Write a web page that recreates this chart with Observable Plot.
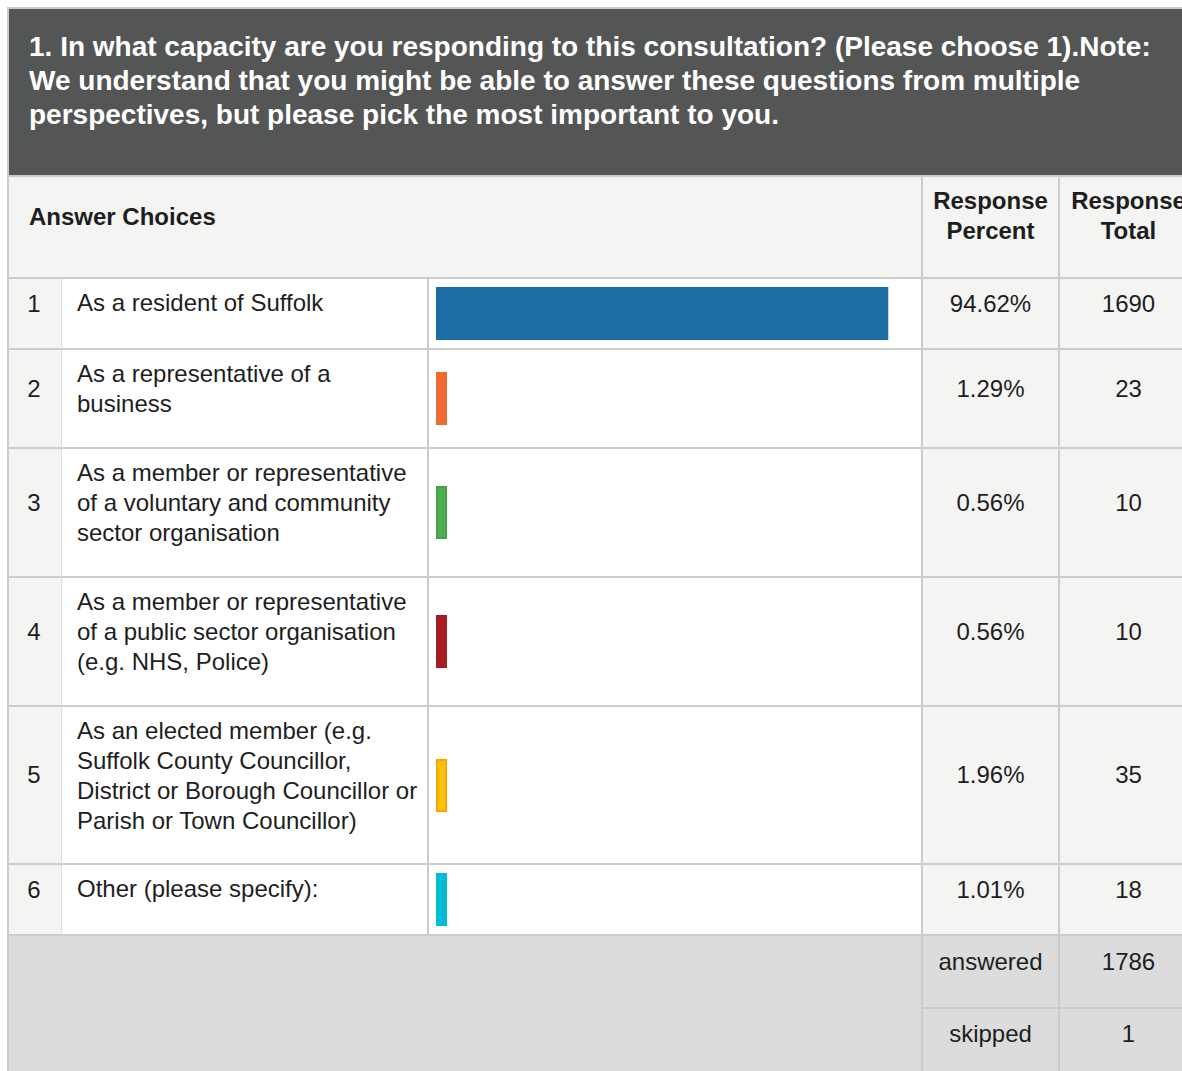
<!DOCTYPE html>
<html><head><meta charset="utf-8">
<script src="https://cdn.jsdelivr.net/npm/d3@7"></script>
<script src="https://cdn.jsdelivr.net/npm/@observablehq/plot@0.6"></script>
<style>
html,body{margin:0;padding:0;background:#fff;overflow:hidden;}
body{width:1182px;height:1071px;position:relative;font-family:"Liberation Sans",Arial,sans-serif;color:#1e1e1e;}
#wrap{position:absolute;left:7px;top:7px;width:1192px;}
#title{background:#545655;color:#fff;font-weight:bold;font-size:28px;line-height:34px;border-top:2px solid #ccc;border-left:2px solid #ccc;padding:21px 0 0 20px;height:168px;box-sizing:border-box;white-space:pre;}
table{border-collapse:separate;border-spacing:0;table-layout:fixed;width:1192px;border-left:2px solid #ccc;border-top:2px solid #ccc;font-size:24px;line-height:30px;}
td{border-right:2px solid #ccc;border-bottom:2px solid #ccc;padding:0;box-sizing:border-box;overflow:hidden;}
td.num{background:#f4f4f3;text-align:center;vertical-align:middle;padding-bottom:20px;padding-right:2px;border-right:1px solid #dedede;}
td.lab{background:#fff;vertical-align:top;padding:9px 4px 0 15px;white-space:pre;}
td.bar{background:#fff;vertical-align:middle;padding-left:7px;}
td.val{background:#f4f4f3;text-align:center;vertical-align:middle;padding-bottom:20px;}
td.hd{background:#f4f4f3;font-weight:bold;}
td.hd.ac{vertical-align:middle;padding:0 0 20px 20px;}
td.hd.rc{text-align:center;vertical-align:top;padding-top:9px;}
td.ft{background:#dcdcdc;}
td.ftv{background:#dcdcdc;text-align:center;vertical-align:middle;padding-bottom:20px;}
svg{display:block;}
</style></head>
<body>
<div id="wrap">
  <div id="title"></div>
  <table id="tbl">
    <colgroup><col style="width:53px"><col style="width:367px"><col style="width:494px"><col style="width:137px"><col style="width:139px"></colgroup>
    <tbody id="tb"></tbody>
  </table>
</div>
<script>
const titleText = "1. In what capacity are you responding to this consultation? (Please choose 1).Note:\nWe understand that you might be able to answer these questions from multiple\nperspectives, but please pick the most important to you.";
const headerLabels = ["Answer Choices", "Response\nPercent", "Response\nTotal"];
const choiceNumbers = [1, 2, 3, 4, 5, 6];
const choiceLabels = [
  "As a resident of Suffolk",
  "As a representative of a\nbusiness",
  "As a member or representative\nof a voluntary and community\nsector organisation",
  "As a member or representative\nof a public sector organisation\n(e.g. NHS, Police)",
  "As an elected member (e.g.\nSuffolk County Councillor,\nDistrict or Borough Councillor or\nParish or Town Councillor)",
  "Other (please specify):"
];
const responsePercent = [94.62, 1.29, 0.56, 0.56, 1.96, 1.01];
const responseTotal = [1690, 23, 10, 10, 35, 18];
const barColors = ["#1c6ea4", "#f26a33", "#4cae4f", "#a51d22", "#ffc20e", "#00bcd4"];
const barStrokes = ["#1c6ea4", "#f26a33", "#46a249", "#a51d22", "#ffa200", "#00bcd4"];
const summaryLabels = ["answered", "skipped"];
const summaryValues = [1786, 1];

const rowHeights = [71, 99, 129, 129, 158, 71];
const minPct = 2.3;

document.getElementById("title").textContent = titleText;
const tb = document.getElementById("tb");

// header
const hr = document.createElement("tr");
hr.style.height = "102px";
hr.innerHTML = `<td class="hd ac" colspan="3">${headerLabels[0]}</td>` +
  `<td class="hd rc" style="white-space:pre">${headerLabels[1]}</td>` +
  `<td class="hd rc" style="white-space:pre">${headerLabels[2]}</td>`;
tb.appendChild(hr);

choiceNumbers.forEach((n, i) => {
  const tr = document.createElement("tr");
  tr.style.height = rowHeights[i] + "px";
  const tdN = document.createElement("td"); tdN.className = "num"; tdN.textContent = n;
  const tdL = document.createElement("td"); tdL.className = "lab"; tdL.textContent = choiceLabels[i];
  const tdB = document.createElement("td"); tdB.className = "bar";
  const d = {pct: responsePercent[i]};
  const chart = Plot.plot({
    width: 480, height: 53, margin: 0,
    x: {domain: [0, 100], range: [0, 478], axis: null},
    marks: [
      Plot.barX([d], {x1: 0, x2: v => Math.max(v.pct, minPct), fill: barColors[i], stroke: barStrokes[i], strokeWidth: 2, inset: 1})
    ]
  });
  tdB.appendChild(chart);
  const tdP = document.createElement("td"); tdP.className = "val"; tdP.textContent = responsePercent[i].toFixed(2) + "%";
  const tdT = document.createElement("td"); tdT.className = "val"; tdT.textContent = responseTotal[i];
  [tdN, tdL, tdB, tdP, tdT].forEach(td => tr.appendChild(td));
  tb.appendChild(tr);
});

summaryLabels.forEach((lab, i) => {
  const tr = document.createElement("tr");
  tr.style.height = (i === 0 ? 73 : 72) + "px";
  let html = "";
  if (i === 0) html += `<td class="ft" colspan="3" rowspan="2"></td>`;
  html += `<td class="ftv">${lab}</td><td class="ftv">${summaryValues[i]}</td>`;
  tr.innerHTML = html;
  tb.appendChild(tr);
});
</script>
</body></html>
